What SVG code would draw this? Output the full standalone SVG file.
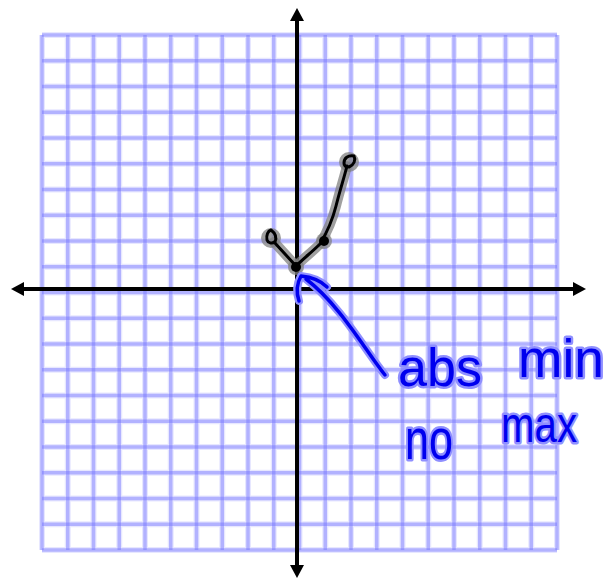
<svg xmlns="http://www.w3.org/2000/svg" width="607" height="579" viewBox="0 0 607 579">
<defs>
<style>
.g{stroke:#7272ff;stroke-opacity:0.45;stroke-width:3.5;fill:none}
.gs{stroke:#a0a0ff;stroke-opacity:0.25;stroke-width:6;fill:none}
.ax{stroke:#000;stroke-width:4;fill:none}
.halo{stroke:#808080;stroke-width:10;fill:none;stroke-linecap:round;stroke-linejoin:round;opacity:0.75}
.crv{stroke:#000;stroke-width:3;fill:none;stroke-linecap:round;stroke-linejoin:round}
.bh{stroke:#8f8fff;stroke-width:8;fill:none;stroke-linecap:round;stroke-linejoin:round}
.bl{stroke:#0000ee;stroke-width:3.5;fill:none;stroke-linecap:round;stroke-linejoin:round}
.tx{font-family:"Liberation Sans",Arial,sans-serif;fill:#0000ee}
.txh{font-family:"Liberation Sans",Arial,sans-serif;fill:#8f8fff;stroke:#8f8fff;stroke-width:5;stroke-linejoin:round}
</style>
</defs>
<rect width="607" height="579" fill="#fff"/>
<g id="grid">
<path class="gs" d="M42 35V550M67.75 35V550M93.5 35V550M119.25 35V550M145 35V550M170.75 35V550M196.5 35V550M222.25 35V550M248 35V550M273.75 35V550M299.5 35V550M325.25 35V550M351 35V550M376.75 35V550M402.5 35V550M428.25 35V550M454 35V550M479.75 35V550M505.5 35V550M531.25 35V550M557 35V550M42 35H557M42 60.75H557M42 86.5H557M42 112.25H557M42 138H557M42 163.75H557M42 189.5H557M42 215.25H557M42 241H557M42 266.75H557M42 292.5H557M42 318.25H557M42 344H557M42 369.75H557M42 395.5H557M42 421.25H557M42 447H557M42 472.75H557M42 498.5H557M42 524.25H557M42 550H557"/>
<path class="g" d="M42 35V550M67.75 35V550M93.5 35V550M119.25 35V550M145 35V550M170.75 35V550M196.5 35V550M222.25 35V550M248 35V550M273.75 35V550M299.5 35V550M325.25 35V550M351 35V550M376.75 35V550M402.5 35V550M428.25 35V550M454 35V550M479.75 35V550M505.5 35V550M531.25 35V550M557 35V550"/>
<path class="g" d="M42 35H557M42 60.75H557M42 86.5H557M42 112.25H557M42 138H557M42 163.75H557M42 189.5H557M42 215.25H557M42 241H557M42 266.75H557M42 292.5H557M42 318.25H557M42 344H557M42 369.75H557M42 395.5H557M42 421.25H557M42 447H557M42 472.75H557M42 498.5H557M42 524.25H557M42 550H557"/>
</g>
<g id="axes">
<line class="ax" x1="24" y1="289" x2="573" y2="289"/>
<polygon points="11,289 24,282 24,296" fill="#000"/>
<polygon points="586,289 573,282 573,296" fill="#000"/>
<line class="ax" x1="297" y1="21" x2="297" y2="565"/>
<polygon points="297,8 290,21 304,21" fill="#000"/>
<polygon points="297,578 290,565 304,565" fill="#000"/>
</g>
<g id="curve">
<path class="halo" d="M274 242 L296 266 C304 258 312 252 320 244 C326 234 332 222 336 206 C340 190 344 178 347 166"/>
<circle cx="271" cy="238" r="5" class="halo"/>
<circle cx="349" cy="162" r="5" class="halo"/>
<circle cx="296" cy="267" r="8" fill="#808080" opacity="0.75"/>
<circle cx="324" cy="241" r="8" fill="#808080" opacity="0.75"/>
<path class="crv" d="M274 242 L296 266 C304 258 312 252 320 244 C326 234 332 222 336 206 C340 190 344 178 347 166"/>
<path class="crv" d="M267 240 C266 235 268 231 271 230 C275 233 277 237 275 242 C272 244 268 243 267 240 Z"/>
<path class="crv" d="M344 163 C344 158 348 155 354 156 C356 160 354 165 349 167 C346 167 344 166 344 163 Z"/>
<circle cx="296" cy="267" r="5" fill="#000"/>
<circle cx="324" cy="241" r="5" fill="#000"/>
</g>
<g id="annotation">
<path class="bh" d="M385 375 C365 350 340 305 306 279 M299 301 C296 292 297 283 301 276 C311 277 321 281 327 287"/>
<path class="bl" d="M385 375 C365 350 340 305 306 279 M299 301 C296 292 297 283 301 276 C311 277 321 281 327 287"/>
<text class="txh" x="398" y="386" font-size="54" textLength="84" lengthAdjust="spacingAndGlyphs">abs</text>
<text class="tx" x="398" y="386" font-size="54" textLength="84" lengthAdjust="spacingAndGlyphs">abs</text>
<text class="txh" x="518" y="377" font-size="54" textLength="86" lengthAdjust="spacingAndGlyphs">min</text>
<text class="tx" x="518" y="377" font-size="54" textLength="86" lengthAdjust="spacingAndGlyphs">min</text>
<text class="txh" x="405" y="459" font-size="58" textLength="48" lengthAdjust="spacingAndGlyphs">no</text>
<text class="tx" x="405" y="459" font-size="58" textLength="48" lengthAdjust="spacingAndGlyphs">no</text>
<text class="txh" x="501" y="442" font-size="50" textLength="76" lengthAdjust="spacingAndGlyphs">max</text>
<text class="tx" x="501" y="442" font-size="50" textLength="76" lengthAdjust="spacingAndGlyphs">max</text>
</g>
</svg>
